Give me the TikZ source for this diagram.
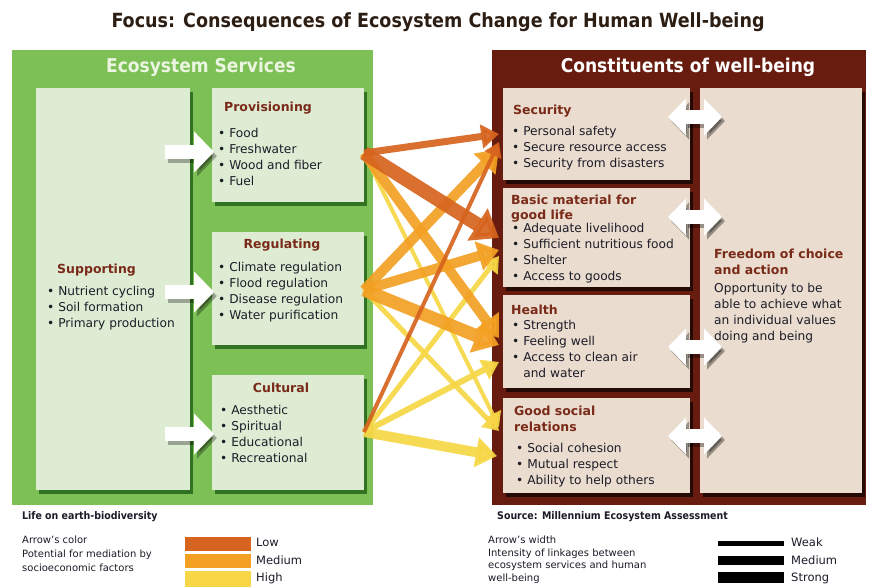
\documentclass[tikz,border=0pt]{standalone}
\usepackage{fontspec}
\setmainfont{DejaVu Sans}
\newfontfamily\condfont{DejaVu Sans Condensed}
\usetikzlibrary{arrows.meta,shadows}
\definecolor{panelG}{RGB}{124,192,86}
\definecolor{paleG}{RGB}{222,236,212}
\definecolor{panelB}{RGB}{104,28,16}
\definecolor{paleB}{RGB}{234,220,206}
\definecolor{hdBrown}{RGB}{122,42,24}
\definecolor{txt}{RGB}{28,28,40}
\definecolor{lowC}{RGB}{214,100,30}
\definecolor{medC}{RGB}{243,160,35}
\definecolor{highC}{RGB}{247,215,70}
\definecolor{titleC}{RGB}{45,30,20}
\definecolor{esTitle}{RGB}{235,245,225}
\begin{document}
\begin{tikzpicture}[x=1pt,y=-1pt,
  box/.style={draw=none, inner sep=0pt, outer sep=0pt, anchor=north west},
  gbox/.style={box, fill=paleG, drop shadow={shadow xshift=3pt,shadow yshift=-4pt,opacity=0.6,fill=black!75!green}},
  bbox/.style={box, fill=paleB, drop shadow={shadow xshift=3pt,shadow yshift=-4pt,opacity=0.65,fill=black}},
  hd/.style={font=\bfseries\fontsize{12.5}{15}\selectfont, text=hdBrown, inner sep=0pt, align=left},
  bl/.style={font=\fontsize{12.2}{16}\selectfont, text=txt, align=left, anchor=north west, inner sep=0pt},
  ptitle/.style={font=\condfont\bfseries\fontsize{19}{21}\selectfont, inner sep=0pt},
  foot/.style={font=\fontsize{10}{14}\selectfont, text=txt, align=left, anchor=north west, inner sep=0pt},
  footb/.style={font=\condfont\bfseries\fontsize{10.5}{13}\selectfont, text=txt, anchor=west, inner sep=0pt},
  leg/.style={font=\fontsize{11.5}{14}\selectfont, text=txt, anchor=west, inner sep=0pt},
  wblk/.style={line width=14pt, white, -{Triangle[width=40pt,length=20pt]}},
  wblks/.style={line width=14pt, black, opacity=0.3, -{Triangle[width=40pt,length=20pt]}},
  wdbl/.style={line width=14pt, white, {Triangle[width=36pt,length=18pt]}-{Triangle[width=36pt,length=18pt]}},
  wdbls/.style={line width=14pt, black, opacity=0.35, {Triangle[width=36pt,length=18pt]}-{Triangle[width=36pt,length=18pt]}},
]
\useasboundingbox (0,0) rectangle (872,587);
\fill[white] (0,0) rectangle (872,587);

% title
\node[font=\condfont\bfseries\fontsize{19.5}{22}\selectfont, text=titleC, inner sep=0pt] (title) at (438,22) {Focus: Consequences of Ecosystem Change for Human Well-being};

% panels
\node[box, fill=panelG, minimum width=361pt, minimum height=455pt] (es) at (12,50) {};
\node[box, fill=panelB, minimum width=374pt, minimum height=455pt] (cw) at (492,50) {};
\node[ptitle, text=esTitle] (estitle) at (201,67) {Ecosystem Services};
\node[ptitle, text=white] (cwtitle) at (688,67) {Constituents of well-being};

% left boxes
\node[gbox, minimum width=154pt, minimum height=402pt] (sup) at (36,88) {};
\node[gbox, minimum width=152pt, minimum height=114pt] (prov) at (212,88) {};
\node[gbox, minimum width=152pt, minimum height=113pt] (reg) at (212,232) {};
\node[gbox, minimum width=152pt, minimum height=115pt] (cult) at (212,375) {};

% right boxes
\node[bbox, minimum width=187pt, minimum height=92pt] (sec) at (503,88) {};
\node[bbox, minimum width=187pt, minimum height=99pt] (basic) at (503,188) {};
\node[bbox, minimum width=187pt, minimum height=93pt] (health) at (503,295) {};
\node[bbox, minimum width=187pt, minimum height=95pt] (social) at (503,398) {};
\node[bbox, minimum width=162pt, minimum height=405pt] (free) at (700,88) {};

% texts left
\node[hd] (provT) at (268,108) {Provisioning};
\node[bl] (provL) at (218,128.5) {• Food\\• Freshwater\\• Wood and fiber\\• Fuel};
\node[hd] (regT) at (282,245) {Regulating};
\node[bl] (regL) at (218,262.5) {• Climate regulation\\• Flood regulation\\• Disease regulation\\• Water purification};
\node[hd] (cultT) at (281,388) {Cultural};
\node[bl] (cultL) at (220,405.5) {• Aesthetic\\• Spiritual\\• Educational\\• Recreational};
\node[hd, anchor=west] (supT) at (57,270) {Supporting};
\node[bl] (supL) at (47,286.5) {• Nutrient cycling\\• Soil formation\\• Primary production};

% texts right
\node[hd, anchor=west] (secT) at (513,111) {Security};
\node[bl] (secL) at (512,126.5) {• Personal safety\\• Secure resource access\\• Security from disasters};
\node[hd, anchor=north west, font=\bfseries\fontsize{12.5}{15}\selectfont] (basicT) at (511,194.5) {Basic material for\\good life};
\node[bl] (basicL) at (512,223.5) {• Adequate livelihood\\• Sufficient nutritious food\\• Shelter\\• Access to goods};
\node[hd, anchor=west] (healthT) at (511,310) {Health};
\node[bl] (healthL) at (512,320.5) {• Strength\\• Feeling well\\• Access to clean air\\\phantom{• }and water};
\node[hd, anchor=north west, font=\bfseries\fontsize{12.5}{16}\selectfont] (socialT) at (514,405.5) {Good social\\relations};
\node[bl] (socialL) at (516,443.5) {• Social cohesion\\• Mutual respect\\• Ability to help others};
\node[hd, anchor=north west, font=\bfseries\fontsize{12.5}{16}\selectfont] (freeT) at (714,248.5) {Freedom of choice\\and action};
\node[bl] (freeL) at (714,283.5) {Opportunity to be\\able to achieve what\\an individual values\\doing and being};

% white block arrows supporting -> services
\coordinate (s1) at (165,152); \coordinate (p1) at (214,152);
\coordinate (s2) at (165,292); \coordinate (p2) at (214,292);
\coordinate (s3) at (165,434); \coordinate (p3) at (214,434);
\foreach \a/\b in {s1/p1,s2/p2,s3/p3}{
  \draw[wblks, transform canvas={xshift=3pt,yshift=-4pt}] (\a) -- (\b);
  \draw[wblk] (\a) -- (\b);
}

% double arrows to freedom
\foreach \yy [count=\i] in {117,217,347,436}{
  \coordinate (dl\i) at (668,\yy); \coordinate (dr\i) at (722,\yy);
}
\foreach \i in {1,2,3,4}{
  \draw[wdbls, transform canvas={xshift=3pt,yshift=-4pt}] (dl\i) -- (dr\i);
  \draw[wdbl] (dl\i) -- (dr\i);
}

% coloured linkage arrows
\coordinate (pS) at (364,153);
\coordinate (rS) at (364,290);
\coordinate (cS) at (364,432);
\coordinate (tPsoc) at (499,427);
\coordinate (tRsoc) at (499,431);
\coordinate (tCsoc) at (497,456);
\coordinate (tChea) at (499,362);
\coordinate (tCbas) at (499,256);
\coordinate (tPhea) at (499,338);
\coordinate (tRsec) at (499,149);
\coordinate (tRbas) at (499,250);
\coordinate (tRhea) at (499,345);
\coordinate (tPsec) at (499,134);
\coordinate (tPbas) at (499,238);
\coordinate (tCsec) at (499,142);
\foreach \s/\t/\c/\w in {pS/tPsoc/highC/4, rS/tRsoc/highC/5, cS/tCsoc/highC/10, cS/tChea/highC/6, cS/tCbas/highC/5,
  pS/tPhea/medC/10, rS/tRsec/medC/10, rS/tRbas/medC/10, rS/tRhea/medC/13,
  pS/tPsec/lowC/7, pS/tPbas/lowC/14, cS/tCsec/lowC/4}{
  \pgfmathsetmacro\hw{1.9*\w+10}
  \pgfmathsetmacro\hl{1.1*\w+10}
  \draw[line width=\w pt, draw=\c, opacity=0.92, -{Triangle[width=\hw pt,length=\hl pt]}] (\s) -- (\t);
}

% footer
\node[footb] (life) at (22,517) {Life on earth-biodiversity};
\node[footb] (source) at (497,517) {Source: Millennium Ecosystem Assessment};
\node[foot] (colleg) at (22,536) {Arrow's color\\Potential for mediation by\\socioeconomic factors};
\node[foot, font=\fontsize{10}{12.5}\selectfont] (widleg) at (488,536) {Arrow's width\\Intensity of linkages between\\ecosystem services and human\\well-being};

\node[box, fill=lowC, minimum width=66pt, minimum height=14pt] (lowbar) at (185,537) {};
\node[box, fill=medC, minimum width=66pt, minimum height=14pt] (medbar) at (185,554) {};
\node[box, fill=highC, minimum width=66pt, minimum height=16pt] (highbar) at (185,571) {};
\node[leg] (lowL) at (256,542) {Low};
\node[leg] (medL) at (256,560) {Medium};
\node[leg] (highL) at (256,578) {High};

\node[box, fill=black, minimum width=66pt, minimum height=5pt] (weakbar) at (718,541) {};
\node[box, fill=black, minimum width=66pt, minimum height=9pt] (mbar) at (718,556) {};
\node[box, fill=black, minimum width=66pt, minimum height=11pt] (sbar) at (718,572) {};
\node[leg] (weakL) at (791,542) {Weak};
\node[leg] (mL) at (791,560) {Medium};
\node[leg] (sL) at (791,578) {Strong};
\end{tikzpicture}
\end{document}
